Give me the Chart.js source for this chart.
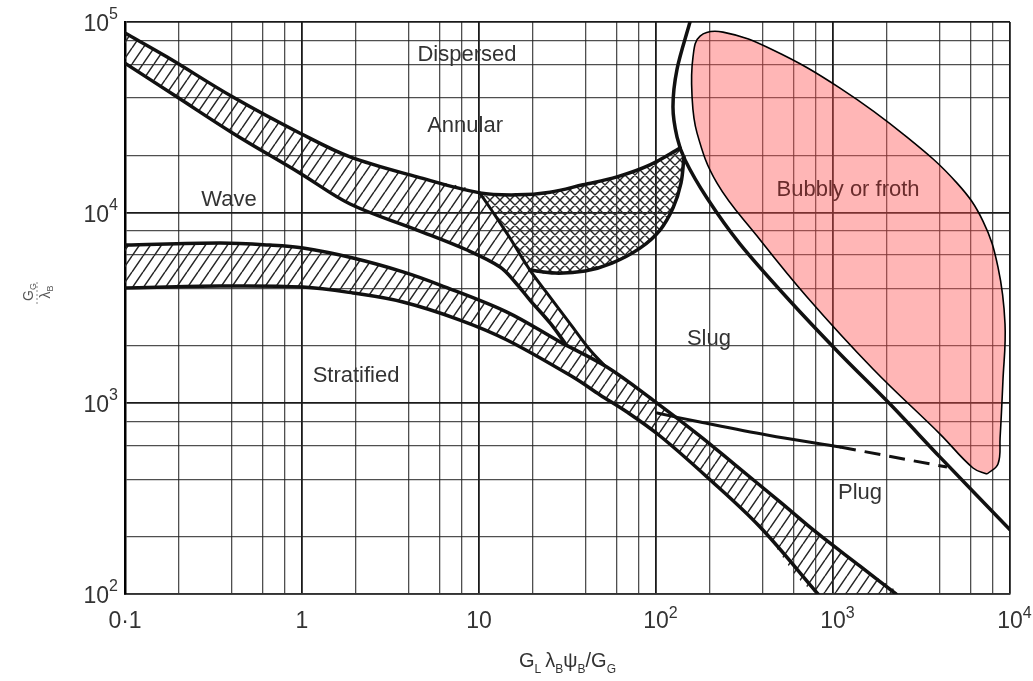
<!DOCTYPE html>
<html><head><meta charset="utf-8">
<script src="https://cdn.jsdelivr.net/npm/chart.js@4/dist/chart.umd.min.js"></script>
<style>html,body{margin:0;padding:0;background:#fff}canvas{display:block}</style>
</head><body>
<canvas id="c" width="1033" height="681"></canvas>
<script>
// ---------- axes ----------
const xGridValues = [0.1,0.2,0.4,0.6,0.8,1,2,4,6,8,10,20,40,60,80,100,200,400,600,800,1000,2000,4000,6000,8000,10000];
const yGridValues = [100,200,400,600,800,1000,2000,4000,6000,8000,10000,20000,40000,60000,80000,100000];
const xDecades = [0.1,1,10,100,1000,10000];
const xDecadeBase = ['0·1','1','10','10','10','10'];
const xDecadeExp = ['','','','2','3','4'];
const yDecades = [100,1000,10000,100000];
const yDecadeBase = ['10','10','10','10'];
const yDecadeExp = ['2','3','4','5'];

// ---------- boundary curves (x = GLλψ/GG, y = GG/λ) ----------
const waveAnnularUpperX = [0.1,0.173,0.407,0.975,1.87,4.47,10.1,16.4,25.2,38.7,60.2,92.5,137];
const waveAnnularUpperY = [87500,65500,40400,26100,19600,15400,12700,12400,12800,14000,15400,17800,21800];

const waveAnnularLowerX = [0.1,0.197,0.407,0.975,1.87,4.47,8.55,13.15,15.97,19.4,25.2,30.6];
const waveAnnularLowerY = [60800,40400,26100,16100,11100,8110,6370,5190,4330,3480,2640,2070];

const annularSlugX = [10.1,12.3,14.96,19.4,25.2,33.5,42.4,51.5];
const annularSlugY = [12700,9710,7360,5000,3610,2540,1905,1570];

const crossBottomX = [19.4,26.9,39.7,56.4,81.2,105.4,124.7,138.4,143.9];
const crossBottomY = [5000,4820,4940,5440,6520,8110,10570,14290,19580];

const slugBubblyX = [155.6,131.5,124.7,131.5,145.9,194.1,298.5,571.5,1096,2099,4025,10000];
const slugBubblyY = [100000,56620,35810,24900,18880,11930,6840,3440,1815,991,522,217];

const stratUpperX = [0.1,0.344,0.659,1.013,1.94,3.72,6.03,14.39,28.7,52.8,96.2,177.4,272.3,502,812.5,1422,2270];
const stratUpperY = [6760,6930,6760,6520,5780,4890,4170,3010,2100,1550,1040,674,486,304,209,140,100];

const stratLowerX = [0.1,0.344,1.013,1.94,3.72,7.81,14.39,33.96,48.3,68.6,105.4,194.1,387.3,822];
const stratLowerY = [4030,4120,4070,3790,3400,2735,2150,1374,1106,900,674,411,224.5,100];

const slugPlugX = [101.4,177.4,423.6,1096];
const slugPlugY = [889,798,682,590];
const slugPlugDashX = [1096,4406];
const slugPlugDashY = [590,463];

const bubblyX = [7413,6180,4025,1683,713,372.4,221.2,170.6,159.7,161.8,177.4,239.1,458.1,1096,2618,5020,7034,8553,9373,9120,8790,8553,7413];
const bubblyY = [426,458,690,1513,3610,7538,14290,26130,41380,65460,84330,88510,71260,44990,24900,14290,9036,5185,2606,1309,658,481,426];

// ---------- region labels ----------
const regionNames = ['Dispersed','Annular','Wave','Stratified','Slug','Plug','Bubbly or froth'];
const regionX = [8.55,8.34,0.387,2.02,199,1422,1216];
const regionY = [67000,28450,11650,1390,2173,339,13130];

// ---------- helpers ----------
const FONT = '"Liberation Sans", Arial, sans-serif';
const pts = (xs, ys) => xs.map((v, i) => ({x: v, y: ys[i]}));
const isDec = v => Math.abs(Math.log10(v) - Math.round(Math.log10(v))) < 1e-6;
const mainCtx = document.getElementById('c').getContext('2d');
function hatch(w, h, lw, color, cross) {
  const c = document.createElement('canvas'); c.width = w; c.height = h;
  const g = c.getContext('2d');
  g.strokeStyle = color; g.lineWidth = lw; g.beginPath();
  for (const dx of [-w, 0, w]) {
    g.moveTo(dx, h); g.lineTo(dx + w, 0);
    if (cross) { g.moveTo(dx, 0); g.lineTo(dx + w, h); }
  }
  g.stroke();
  return mainCtx.createPattern(c, 'repeat');
}
const hatchPat = hatch(11, 16, 1.5, '#262626', false);
const crossPat = hatch(10, 10, 1.4, '#262626', true);

const upper = pts(waveAnnularUpperX, waveAnnularUpperY);
const lower = pts(waveAnnularLowerX, waveAnnularLowerY);
const aLine = pts(annularSlugX, annularSlugY);
const cBot = pts(crossBottomX, crossBottomY);
const sUp = pts(stratUpperX, stratUpperY);
const sLo = pts(stratLowerX, stratLowerY);

const topHatchPoly = upper.slice(0, 7).concat(aLine.slice(1), lower.slice().reverse());
const crossPoly = upper.slice(6).concat(cBot.slice().reverse(), aLine.slice(1, 3).reverse());
const stratPoly = sUp.concat(sLo.slice().reverse());

const lineDs = (label, data, extra) => Object.assign({
  label, data, borderColor: '#111', borderWidth: 3.5, pointRadius: 0, tension: 0.35,
  fill: false, borderCapStyle: 'round', borderJoinStyle: 'round', order: 1
}, extra || {});
const fillDs = (label, data, bg) => ({
  label, data, borderColor: 'rgba(0,0,0,0)', borderWidth: 0, pointRadius: 0, tension: 0.35,
  fill: 'shape', backgroundColor: bg, order: 6
});

const textPlugin = {
  id: 'texts',
  afterDatasetsDraw(chart) {
    const {ctx, scales: {x, y}} = chart;
    ctx.save();
    ctx.font = '22px ' + FONT;
    ctx.textAlign = 'center'; ctx.textBaseline = 'middle';
    regionNames.forEach((n, i) => {
      ctx.fillStyle = n.startsWith('Bubbly') ? '#6a2c2c' : '#333';
      ctx.fillText(n, x.getPixelForValue(regionX[i]), y.getPixelForValue(regionY[i]));
    });
    ctx.restore();
  },
  afterDraw(chart) {
    const {ctx, scales: {x, y}, chartArea: a} = chart;
    ctx.save();
    ctx.fillStyle = '#333';
    ctx.textBaseline = 'alphabetic';
    xDecades.forEach((v, i) => {
      const px = x.getPixelForValue(v);
      ctx.font = '23px ' + FONT; ctx.textAlign = 'center';
      ctx.fillText(xDecadeBase[i], px, a.bottom + 34);
      if (xDecadeExp[i]) {
        const w = ctx.measureText(xDecadeBase[i]).width;
        ctx.font = '16px ' + FONT; ctx.textAlign = 'left';
        ctx.fillText(xDecadeExp[i], px + w / 2, a.bottom + 24);
      }
    });
    yDecades.forEach((v, i) => {
      const py = y.getPixelForValue(v);
      const right = a.left - 7;
      ctx.font = '16px ' + FONT; ctx.textAlign = 'right';
      const ew = ctx.measureText(yDecadeExp[i]).width;
      ctx.fillText(yDecadeExp[i], right, py - 3);
      ctx.font = '23px ' + FONT;
      ctx.fillText(yDecadeBase[i], right - ew, py + 9);
    });
    const parts = [['G', 0], ['L', 1], ['\u2009', 0], ['λ', 0], ['B', 1], ['ψ', 0], ['B', 1], ['/', 0], ['G', 0], ['G', 1]];
    const mainF = '20px ' + FONT, subF = '12px ' + FONT;
    let total = 0;
    parts.forEach(p => { ctx.font = p[1] ? subF : mainF; total += ctx.measureText(p[0]).width; });
    let cx = (a.left + a.right) / 2 - total / 2;
    ctx.textAlign = 'left';
    const base = a.bottom + 73;
    parts.forEach(p => {
      ctx.font = p[1] ? subF : mainF;
      ctx.fillText(p[0], cx, base + (p[1] ? 6 : 0));
      cx += ctx.measureText(p[0]).width;
    });
    ctx.translate(37, 292); ctx.rotate(-Math.PI / 2);
    ctx.textAlign = 'left';
    const drawPair = (m, s, yb) => {
      ctx.font = '14px ' + FONT; const w1 = ctx.measureText(m).width;
      ctx.font = '9px ' + FONT; const w2 = ctx.measureText(s).width;
      const x0 = -(w1 + w2) / 2;
      ctx.font = '14px ' + FONT; ctx.fillText(m, x0, yb);
      ctx.font = '9px ' + FONT; ctx.fillText(s, x0 + w1, yb + 3);
    };
    ctx.fillStyle = '#555';
    drawPair('G', 'G', -4);
    drawPair('λ', 'B', 13);
    ctx.strokeStyle = '#888'; ctx.lineWidth = 1; ctx.setLineDash([2, 2]);
    ctx.beginPath(); ctx.moveTo(-12, 0); ctx.lineTo(12, 0); ctx.stroke();
    ctx.restore();
  }
};

const gridCfg = {
  color: c => isDec(c.tick.value) ? '#1a1a1a' : 'rgba(35,35,35,0.8)',
  lineWidth: c => isDec(c.tick.value) ? 1.8 : 1.3,
  drawTicks: false
};

new Chart(mainCtx, {
  type: 'line',
  data: {
    datasets: [
      lineDs('Wave/Annular upper', upper),
      lineDs('Wave/Annular lower', lower),
      lineDs('Annular/Slug', aLine, {borderWidth: 3}),
      lineDs('Froth transition', cBot),
      lineDs('Slug/Bubbly', pts(slugBubblyX, slugBubblyY), {tension: 0.3}),
      lineDs('Stratified upper', sUp),
      lineDs('Stratified lower', sLo),
      lineDs('Slug/Plug', pts(slugPlugX, slugPlugY), {borderWidth: 3}),
      lineDs('Slug/Plug (dashed)', pts(slugPlugDashX, slugPlugDashY), {borderWidth: 3, borderDash: [16, 9], borderCapStyle: 'butt', tension: 0}),
      {label: 'Bubbly or froth', data: pts(bubblyX, bubblyY), borderColor: '#000', borderWidth: 1.6,
       pointRadius: 0, tension: 0.4, fill: 'shape', backgroundColor: 'rgba(255,80,80,0.42)', order: 4},
      fillDs('Wave band', topHatchPoly, hatchPat),
      fillDs('Cross band', crossPoly, crossPat),
      fillDs('Stratified band', stratPoly, hatchPat)
    ]
  },
  options: {
    responsive: false,
    animation: false,
    devicePixelRatio: 1,
    layout: {padding: {top: 22, right: 23, bottom: 0, left: 0}},
    plugins: {legend: {display: false}, tooltip: {enabled: false}},
    scales: {
      x: {
        type: 'logarithmic', min: 0.1, max: 10000,
        afterBuildTicks: s => { s.ticks = xGridValues.map(v => ({value: v})); },
        ticks: {display: false},
        grid: gridCfg,
        border: {display: true, color: '#333', width: 1.5},
        afterFit: s => { s.height = 87; s.paddingLeft = 0; s.paddingRight = 0; }
      },
      y: {
        type: 'logarithmic', min: 100, max: 100000,
        afterBuildTicks: s => { s.ticks = yGridValues.map(v => ({value: v})); },
        ticks: {display: false},
        grid: gridCfg,
        border: {display: true, color: '#000', width: 2.5},
        afterFit: s => { s.width = 125; s.paddingTop = 0; s.paddingBottom = 0; }
      }
    }
  },
  plugins: [textPlugin]
});
</script>
</body></html>
